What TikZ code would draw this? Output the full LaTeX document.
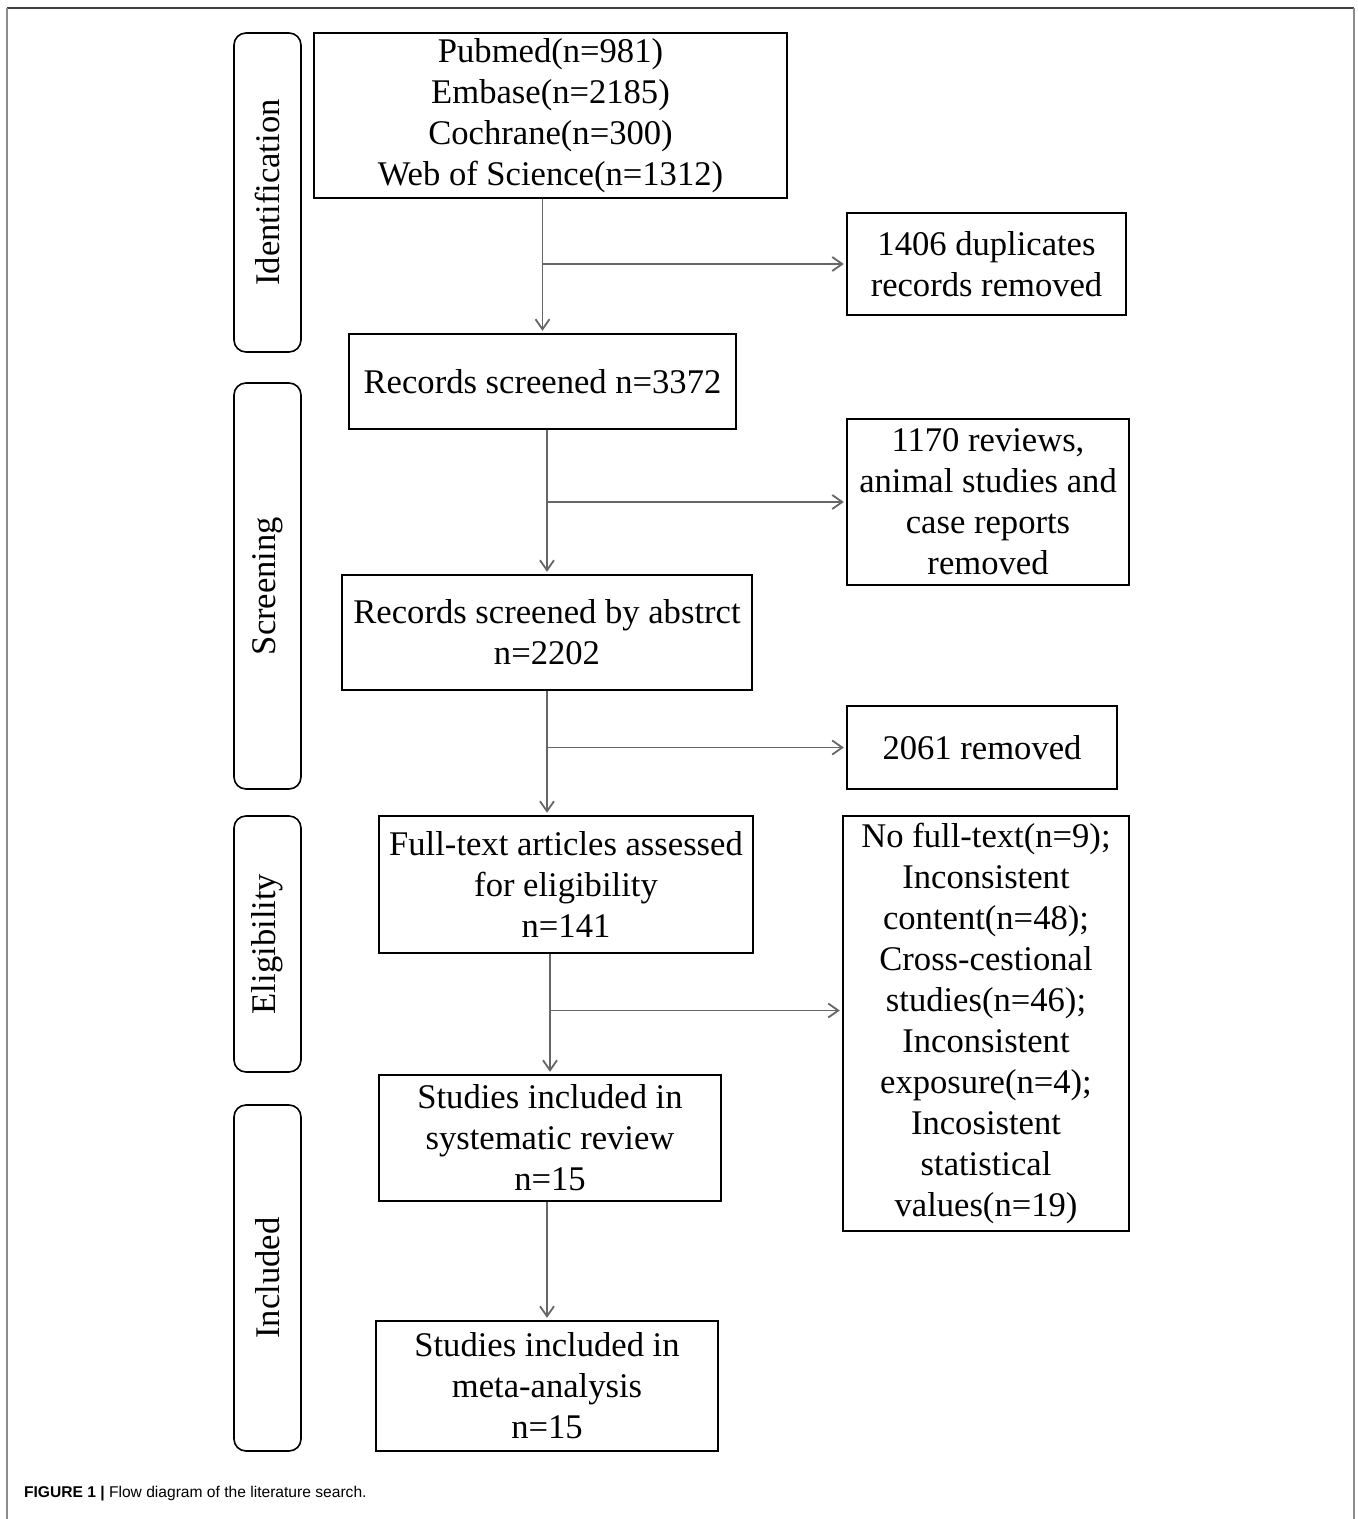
\documentclass[tikz,border=0pt]{standalone}
\usepackage{fontspec}
\setmainfont{Liberation Serif}
\newfontfamily\capfont{Liberation Sans}
\usetikzlibrary{arrows.meta}

\begin{document}
\begin{tikzpicture}[x=0.5pt, y=-0.5pt, every node/.style={font=\fontsize{17.3}{20.5}\selectfont}]
  \tikzstyle{box}=[draw, line width=1.2pt, align=center, inner sep=0pt]
  \tikzstyle{stage}=[draw, line width=0.8pt, rounded corners=6pt, rotate=90, minimum height=33.5pt, inner sep=0pt]
  \tikzstyle{flow}=[draw=black!60, line width=0.9pt, shorten >=1pt, -{Straight Barb[length=5pt,width=7pt]}]

\useasboundingbox (0,0) rectangle (1358,1519);

% page frame
\draw[black!75, line width=1pt] (7,8) -- (1354,8);
\draw[black!45, line width=1.2pt] (7,8) -- (7,1519);
\draw[black!45, line width=1.2pt] (1354,8) -- (1354,1519);

% stages
\node [stage, minimum width=159.5pt] (ident)  at (267.5,192.5) {Identification};
\node [stage, minimum width=203pt]   (screen) at (267.5,586)   {Screening};
\node [stage, minimum width=128pt]   (elig)   at (267.5,944)   {Eligibility};
\node [stage, minimum width=173pt]   (incl)   at (267.5,1278)  {Included};

% main column
\node [box, minimum width=236.5pt, minimum height=82.5pt] (db) at (550.5,115.5)
  {Pubmed(n=981)\\Embase(n=2185)\\Cochrane(n=300)\\Web of Science(n=1312)};
\node [box, minimum width=193.5pt, minimum height=47.5pt] (scr) at (542.5,381.5)
  {Records screened n=3372};
\node [box, minimum width=205pt, minimum height=57.5pt] (abs) at (547,632.5)
  {Records screened by abstrct\\n=2202};
\node [box, minimum width=187pt, minimum height=68.5pt] (full) at (566,884.5)
  {Full-text articles assessed\\for eligibility\\n=141};
\node [box, minimum width=171pt, minimum height=63pt] (sys) at (550,1138)
  {Studies included in\\systematic review\\n=15};
\node [box, minimum width=171pt, minimum height=65pt] (meta) at (547,1386)
  {Studies included in\\meta-analysis\\n=15};

% removed records
\node [box, minimum width=139.5pt, minimum height=51pt] (dup) at (986.5,264)
  {1406 duplicates\\records removed};
\node [box, minimum width=141pt, minimum height=83pt] (rev) at (988,502)
  {1170 reviews,\\animal studies and\\case reports\\removed};
\node [box, minimum width=135pt, minimum height=41.5pt] (rem) at (982,747.5)
  {2061 removed};
\node [box, minimum width=143pt, minimum height=207.5pt] (excl) at (986,1023.5)
  {No full-text(n=9);\\Inconsistent\\content(n=48);\\Cross-cestional\\studies(n=46);\\Inconsistent\\exposure(n=4);\\Incosistent\\statistical\\values(n=19)};

\draw[flow] (db.south -| scr.north) -- (scr.north);
\draw[flow] (dup.west -| scr.north) -- (dup.west);
\draw[flow] (scr.south -| abs.north) -- (abs.north);
\draw[flow] (rev.west -| abs.north) -- (rev.west);
\draw[flow] (abs.south) -- (abs.south |- full.north);
\draw[flow] (rem.west -| abs.south) -- (rem.west);
\draw[flow] (full.south -| sys.north) -- (sys.north);
\draw[flow] ([yshift=6.5pt]excl.west -| sys.north) -- ([yshift=6.5pt]excl.west);
\draw[flow] (sys.south -| meta.north) -- (meta.north);

\node [anchor=west, font=\capfont\fontsize{7.8}{9}\selectfont] (cap) at (17,1494)
  {\textbf{FIGURE 1 |} Flow diagram of the literature search.};

\end{tikzpicture}
\end{document}
